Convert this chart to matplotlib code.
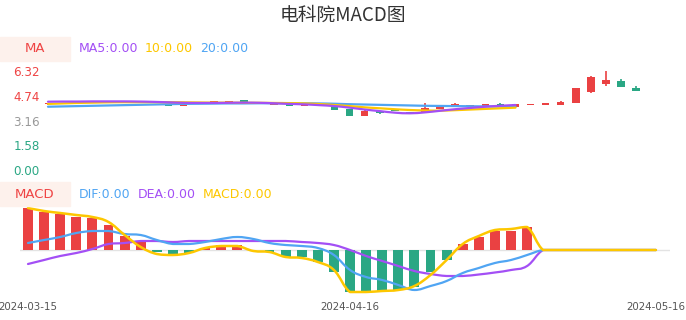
import matplotlib
matplotlib.use("Agg")
import matplotlib.pyplot as plt
from matplotlib.path import Path
from matplotlib.patches import PathPatch
import numpy as np

plt.rcParams['font.family'] = ['DejaVu Sans']

# ---- data ----
dates = ["2024-03-15", "2024-04-16", "2024-05-16"]
date_idx = [0, 20, 39]

opens  = [4.20, 4.32, 4.34, 4.35, 4.38, 4.42, 4.38, 4.33, 4.17, 4.08,
          4.26, 4.34, 4.34, 4.46, 4.28, 4.17, 4.23, 4.07, 4.17, 4.07,
          3.91, 3.47, 3.75, 3.85, 3.68, 3.68, 3.90, 4.07, 4.07, 4.10,
          4.24, 4.04, 4.15, 4.17, 4.17, 4.26, 5.00, 5.49, 5.70, 5.24]
closes = [4.27, 4.37, 4.40, 4.40, 4.42, 4.38, 4.34, 4.36, 4.08, 4.17,
          4.32, 4.42, 4.42, 4.34, 4.22, 4.28, 4.07, 4.17, 4.07, 3.85,
          3.43, 3.79, 3.64, 3.75, 3.62, 3.94, 4.00, 4.23, 4.17, 4.20,
          4.13, 4.21, 4.22, 4.26, 4.36, 5.22, 5.96, 5.75, 5.28, 5.06]
highs  = [4.28, 4.38, 4.41, 4.41, 4.43, 4.43, 4.39, 4.37, 4.18, 4.18,
          4.33, 4.43, 4.43, 4.47, 4.29, 4.29, 4.24, 4.18, 4.18, 4.08,
          3.92, 3.80, 3.76, 3.86, 3.69, 4.28, 4.01, 4.28, 4.18, 4.21,
          4.25, 4.22, 4.23, 4.28, 4.38, 5.23, 6.00, 6.32, 5.81, 5.36]
lows   = [4.18, 4.31, 4.33, 4.34, 4.37, 4.37, 4.33, 4.32, 4.07, 4.07,
          4.25, 4.33, 4.33, 4.33, 4.21, 4.16, 4.06, 4.06, 4.06, 3.84,
          3.42, 3.46, 3.60, 3.74, 3.55, 3.67, 3.89, 4.06, 4.06, 4.09,
          4.12, 4.03, 4.13, 4.16, 4.16, 4.25, 4.94, 5.36, 5.27, 5.05]

ma5  = [4.36, 4.37, 4.37, 4.38, 4.38, 4.38, 4.37, 4.35, 4.32, 4.29,
        4.28, 4.28, 4.29, 4.30, 4.29, 4.26, 4.22, 4.19, 4.14, 4.08,
        3.98, 3.86, 3.76, 3.66, 3.62, 3.68, 3.78, 3.88, 3.96, 4.04,
        4.10, 4.15]
ma10 = [4.22, 4.25, 4.28, 4.30, 4.32, 4.33, 4.33, 4.33, 4.33, 4.32,
        4.31, 4.30, 4.30, 4.29, 4.29, 4.28, 4.27, 4.25, 4.21, 4.15,
        4.08, 4.00, 3.94, 3.88, 3.83, 3.80, 3.79, 3.82, 3.86, 3.90,
        3.94, 3.98]
ma20 = [4.04, 4.06, 4.08, 4.10, 4.12, 4.14, 4.16, 4.18, 4.20, 4.22,
        4.23, 4.24, 4.25, 4.25, 4.26, 4.26, 4.26, 4.26, 4.25, 4.23,
        4.20, 4.18, 4.16, 4.14, 4.12, 4.10, 4.09, 4.08, 4.07, 4.06,
        4.05, 4.04]

hist = [0.42, 0.38, 0.36, 0.33, 0.32, 0.25, 0.14, 0.09, -0.02, -0.05,
        -0.03, 0.02, 0.05, 0.05, 0.005, -0.02, -0.07, -0.07, -0.12, -0.22,
        -0.42, -0.42, -0.41, -0.40, -0.37, -0.22, -0.10, 0.06, 0.13, 0.19,
        0.19, 0.23, 0, 0, 0, 0, 0, 0, 0, 0]
macd = [0.42, 0.39, 0.37, 0.35, 0.33, 0.28, 0.15, 0.03, -0.04, -0.05,
        -0.03, 0.02, 0.04, 0.04, -0.01, -0.02, -0.07, -0.08, -0.12, -0.20,
        -0.42, -0.42, -0.41, -0.40, -0.36, -0.25, -0.10, 0.06, 0.14, 0.20,
        0.21, 0.23, 0, 0, 0, 0, 0, 0, 0, 0]
dif  = [0.07, 0.10, 0.13, 0.17, 0.19, 0.19, 0.16, 0.15, 0.10, 0.06,
        0.06, 0.08, 0.11, 0.13, 0.11, 0.07, 0.05, 0.04, 0.02, -0.05,
        -0.20, -0.27, -0.30, -0.35, -0.40, -0.36, -0.31, -0.23, -0.18, -0.13,
        -0.10, -0.05, 0, 0, 0, 0, 0, 0, 0, 0]
dea  = [-0.14, -0.10, -0.06, -0.03, 0.01, 0.06, 0.07, 0.09, 0.09, 0.08,
        0.09, 0.09, 0.09, 0.09, 0.09, 0.09, 0.09, 0.08, 0.07, 0.05,
        0.00, -0.06, -0.11, -0.16, -0.21, -0.24, -0.26, -0.26, -0.245, -0.225,
        -0.20, -0.16, 0, 0, 0, 0, 0, 0, 0, 0]

price_ticks = [0.00, 1.58, 3.16, 4.74, 6.32]
price_tick_colors = ['#2aa784', '#2aa784', '#999999', '#ef4444', '#ef4444']

RED = '#ea4142'
GREEN = '#2aa784'
PURPLE = '#a34ff5'
YELLOW = '#fdc700'
BLUE = '#50a5f3'

W, H = 686, 320
fig = plt.figure(figsize=(W / 100, H / 100), dpi=100)


def px_axes(x0, y0, x1, y1):
    return fig.add_axes([x0 / W, 1 - y1 / H, (x1 - x0) / W, (y1 - y0) / H])


def smooth_line(ax, xs, ys, t=0.2, **kw):
    # cubic bezier through the points, control points clamped so the
    # curve does not overshoot (like echarts smooth lines)
    p = np.column_stack([np.asarray(xs, float), np.asarray(ys, float)])
    verts = [p[0]]
    codes = [Path.MOVETO]
    k = len(p)
    for i in range(k - 1):
        a = p[max(i - 1, 0)]
        b = p[min(i + 2, k - 1)]
        c1 = p[i] + (p[i + 1] - a) * t
        c2 = p[i + 1] - (b - p[i]) * t
        lo, hi = min(p[i][1], p[i + 1][1]), max(p[i][1], p[i + 1][1])
        c1[1] = np.clip(c1[1], lo, hi)
        c2[1] = np.clip(c2[1], lo, hi)
        verts += [c1, c2, p[i + 1]]
        codes += [Path.CURVE4] * 3
    ax.add_patch(PathPatch(Path(verts, codes), fill=False, capstyle='round',
                           joinstyle='round', **kw))


# ---- candle panel ----
ax1 = px_axes(45, 71, 686, 170)
c0, cs = 48, 15.08
ax1.set_xlim((45 - c0) / cs, (686 - c0) / cs)
ax1.set_ylim(0, 6.32)
n = len(opens)
x = np.arange(n)
for i in range(n):
    col = RED if closes[i] >= opens[i] else GREEN
    ax1.vlines(x[i], lows[i], highs[i], color=col, lw=1.2, zorder=2)
    lo, hi = min(opens[i], closes[i]), max(opens[i], closes[i])
    ax1.bar(x[i], max(hi - lo, 0.05), bottom=lo, width=0.5, color=col, zorder=2)
m = len(ma5)
smooth_line(ax1, x[:m], ma20, color=BLUE, lw=1.6, zorder=3)
smooth_line(ax1, x[:m], ma10, color=YELLOW, lw=1.6, zorder=3)
smooth_line(ax1, x[:m], ma5, color=PURPLE, lw=1.6, zorder=3)
ax1.set_yticks(price_ticks)
ax1.set_yticklabels(["%.2f" % v for v in price_ticks], fontsize=8.6)
for lbl, c in zip(ax1.get_yticklabels(), price_tick_colors):
    lbl.set_color(c)
ax1.tick_params(axis='y', length=0, pad=4)
ax1.set_xticks([])
for s in ax1.spines.values():
    s.set_visible(False)
ax1.patch.set_alpha(0)

# ---- MACD panel ----
ax2 = px_axes(20, 204, 670, 296)
m0, ms = 28, 16.1
ax2.set_xlim((20 - m0) / ms, (670 - m0) / ms)
ax2.set_ylim(-0.46, 0.46)
ax2.axhline(0, color='#e3e3e3', lw=1, zorder=1)
bar_cols = [RED if v >= 0 else GREEN for v in hist]
ax2.bar(x, hist, width=0.62, color=bar_cols, zorder=2)
smooth_line(ax2, x, dea, color=PURPLE, lw=1.6, zorder=3)
smooth_line(ax2, x, dif, color=BLUE, lw=1.6, zorder=3)
smooth_line(ax2, x, macd, color=YELLOW, lw=1.8, zorder=4)
ax2.set_yticks([])
ax2.set_xticks(date_idx)
ax2.set_xticklabels(dates, fontsize=7.4, color='#555555')
ax2.tick_params(axis='x', length=0, pad=4)
for s in ax2.spines.values():
    s.set_visible(False)
ax2.patch.set_alpha(0)


# ---- header texts ----
def ftext(px, py, s, **kw):
    fig.text(px / W, 1 - py / H, s, va='center', **kw)


fig.patches.append(plt.Rectangle((0, 1 - 61 / H), 70 / W, 24 / H,
                                 transform=fig.transFigure, color='#fdf1ec', zorder=0))
fig.patches.append(plt.Rectangle((0, 1 - 206 / H), 70 / W, 24 / H,
                                 transform=fig.transFigure, color='#fdf1ec', zorder=0))
ftext(35, 49, "MA", ha='center', color='#ef4444', fontsize=9.5)
ftext(79, 49, "MA5:0.00", ha='left', color=PURPLE, fontsize=9)
ftext(145, 49, "10:0.00", ha='left', color=YELLOW, fontsize=9)
ftext(200, 49, "20:0.00", ha='left', color=BLUE, fontsize=9)
ftext(35, 194, "MACD", ha='center', color='#ef4444', fontsize=9.5)
ftext(79, 194, "DIF:0.00", ha='left', color=BLUE, fontsize=9)
ftext(138, 194, "DEA:0.00", ha='left', color=PURPLE, fontsize=9)
ftext(203, 194, "MACD:0.00", ha='left', color=YELLOW, fontsize=9)
fig.text(0.5, 1 - 15 / H, "电科院MACD图", ha='center', va='center', fontsize=13.5,
         color='#333333', family=['Noto Sans CJK SC', 'DejaVu Sans'])

fig.savefig("out.png", dpi=100)
